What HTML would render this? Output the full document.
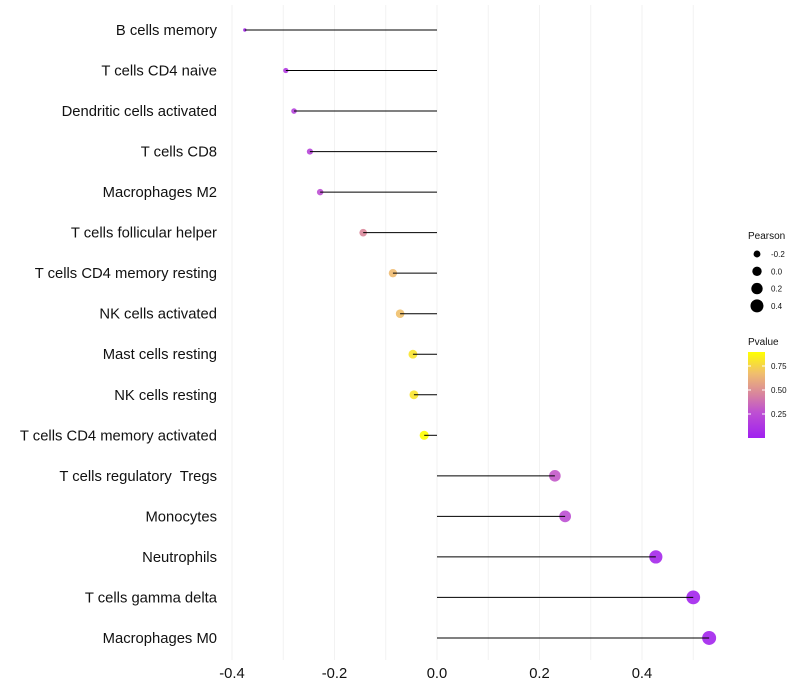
<!DOCTYPE html>
<html><head><meta charset="utf-8"><style>
body{margin:0;background:#fff;font-family:"Liberation Sans",sans-serif;}
svg{display:block}
</style></head><body>
<svg id="chart" width="800" height="700">
<g id="grid"></g>
<g id="marks"></g>
<g id="ylabels"></g>
<g id="xlabels"></g>
<g id="legend"></g>
</svg>
<script>
const categories=["B cells memory","T cells CD4 naive","Dendritic cells activated","T cells CD8","Macrophages M2","T cells follicular helper","T cells CD4 memory resting","NK cells activated","Mast cells resting","NK cells resting","T cells CD4 memory activated","T cells regulatory  Tregs","Monocytes","Neutrophils","T cells gamma delta","Macrophages M0"];
const pearson=[-0.375,-0.295,-0.279,-0.248,-0.228,-0.144,-0.086,-0.072,-0.047,-0.045,-0.025,0.230,0.250,0.427,0.500,0.531];
const pvalue=[0.05,0.15,0.2,0.22,0.28,0.5,0.7,0.72,0.85,0.85,0.95,0.32,0.28,0.05,0.03,0.03];
const xTicks=[-0.4,-0.2,0.0,0.2,0.4];
const xTickLabels=["-0.4","-0.2","0.0","0.2","0.4"];
const sizeLegend=[-0.2,0.0,0.2,0.4];
const colorLegend=[0.25,0.50,0.75];

const NS="http://www.w3.org/2000/svg";
function X(v){return 437+v*512.5;}
function Y(i){return 30+i*40.53;}
function R(v){return Math.sqrt(Math.max(2.9,22+50.9*v));}
const stops=[[0,[160,32,240]],[0.3,[190,80,210]],[0.5,[215,130,160]],[0.75,[240,190,110]],[1,[255,255,0]]];
function col(p){p=Math.min(1,Math.max(0,p/0.95));for(let k=1;k<stops.length;k++){if(p<=stops[k][0]){const a=stops[k-1],b=stops[k],t=(p-a[0])/(b[0]-a[0]);return "rgb("+a[1].map((c,j)=>Math.round(c+(b[1][j]-c)*t)).join(",")+")";}}return "rgb(255,255,0)";}
function mk(tag,attrs,parent){const e=document.createElementNS(NS,tag);for(const k in attrs)e.setAttribute(k,attrs[k]);parent.appendChild(e);return e;}
const grid=document.getElementById('grid'),marks=document.getElementById('marks'),yl=document.getElementById('ylabels'),xl=document.getElementById('xlabels'),lg=document.getElementById('legend');
for(let v=-0.4;v<=0.55;v+=0.1){const l=mk('line',{x1:X(v),x2:X(v),y1:5,y2:660,stroke:'#f2f2f2','stroke-width':1},grid);}
categories.forEach((c,i)=>{
 const p=mk('circle',{cx:X(pearson[i]),cy:Y(i),r:R(pearson[i]),fill:col(pvalue[i]),'fill-opacity':0.9},marks);
 
 const s=mk('line',{x1:X(0),x2:X(pearson[i]),y1:Y(i),y2:Y(i),stroke:'#000','stroke-width':1},marks);
 
 const t=mk('text',{x:217,y:Y(i)+5,'text-anchor':'end','font-size':14.8,fill:'#111',style:'white-space:pre'},yl);t.textContent=c;
 
});
xTicks.forEach((v,i)=>{const t=mk('text',{x:X(v),y:678,'text-anchor':'middle','font-size':14.8,fill:'#111'},xl);t.textContent=xTickLabels[i];
 });
let t=mk('text',{x:748,y:239,'font-size':10,fill:'#111'},lg);t.textContent='Pearson';

sizeLegend.forEach((v,i)=>{const y=254+i*17.3;const c=mk('circle',{cx:757,cy:y,r:R(v),fill:'#000'},lg);
 
 const tt=mk('text',{x:771,y:y+3,'font-size':8,fill:'#111'},lg);tt.textContent=v.toFixed(1);
 });
t=mk('text',{x:748,y:345,'font-size':10,fill:'#111'},lg);t.textContent='Pvalue';

const defs=mk('defs',{},lg);const gr=mk('linearGradient',{id:'pg',x1:0,y1:1,x2:0,y2:0},defs);
stops.forEach(s=>mk('stop',{offset:s[0],'stop-color':'rgb('+s[1].join(',')+')'},gr));
const bar=mk('rect',{x:748,y:352,width:17,height:86,fill:'url(#pg)'},lg);

colorLegend.forEach(v=>{const y=438-v*96;mk('line',{x1:748,x2:751,y1:y,y2:y,stroke:'#fff'},lg);mk('line',{x1:762,x2:765,y1:y,y2:y,stroke:'#fff'},lg);
 const tt=mk('text',{x:771,y:y+3,'font-size':8,fill:'#111'},lg);tt.textContent=v.toFixed(2);
 });
</script>
</body></html>
